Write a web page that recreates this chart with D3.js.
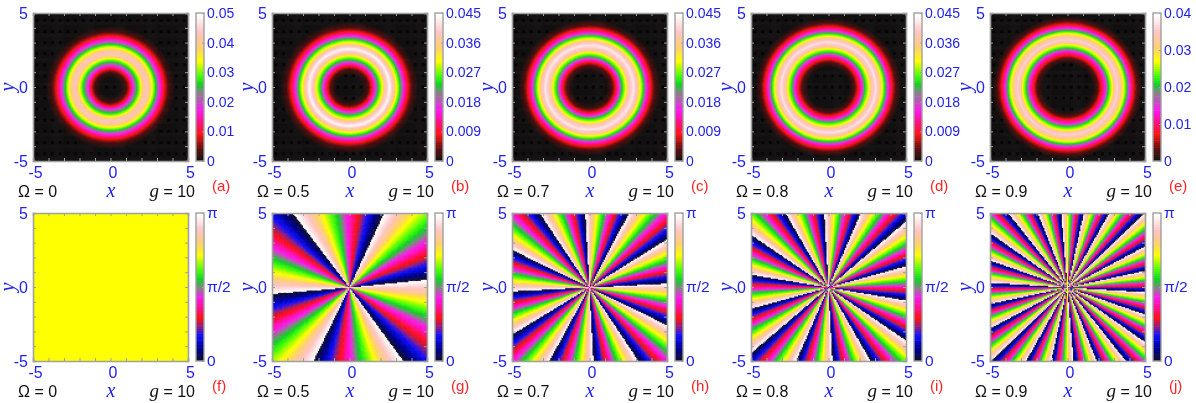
<!DOCTYPE html>
<html><head><meta charset="utf-8">
<script src="https://d3js.org/d3.v7.min.js"></script>
<style>
html,body{margin:0;padding:0;background:#fff;width:1196px;height:403px;overflow:hidden}
#w{position:relative;width:1196px;height:403px}
canvas{position:absolute;filter:blur(0.45px)}
svg{position:absolute;left:0;top:0}
text{font-family:"Liberation Sans",Arial,sans-serif}
.it{font-family:"Liberation Serif",serif;font-style:italic}
</style></head><body><div id="w"></div>
<script>
// ---------- data ----------
const omegas = ["0","0.5","0.7","0.8","0.9"];
const gLabel = "g = 10";
const topLetters = ["(a)","(b)","(c)","(d)","(e)"];
const botLetters = ["(f)","(g)","(h)","(i)","(j)"];
const densityMax = [0.05,0.045,0.045,0.045,0.04];
const densityTicks = [
  [0,0.01,0.02,0.03,0.04,0.05],
  [0,0.009,0.018,0.027,0.036,0.045],
  [0,0.009,0.018,0.027,0.036,0.045],
  [0,0.009,0.018,0.027,0.036,0.045],
  [0,0.01,0.02,0.03,0.04]];
// radial density profiles: radius, density
const radiiA = [0,0.65,1.0,1.24,1.42,1.73,1.98,2.1,2.3,2.5,2.7,2.92,3.2,3.48,3.78,4.15,5];
const densA  = [0,0.0004,0.003,0.009,0.017,0.026,0.034,0.040,0.0435,0.040,0.034,0.026,0.017,0.009,0.003,0.0004,0];
const radiiB = [0,0.85,1.2,1.42,1.62,1.9,2.15,2.28,2.6,2.85,3.03,3.25,3.52,3.78,4.05,4.45,5];
const densB  = [0,0.0003,0.003,0.008,0.015,0.024,0.031,0.037,0.0438,0.037,0.031,0.024,0.015,0.008,0.003,0.0003,0];
const radiiC = [0,1.1,1.45,1.68,1.88,2.12,2.38,2.5,2.85,3.12,3.27,3.48,3.72,3.98,4.22,4.6,5];
const densC  = [0,0.0003,0.003,0.008,0.015,0.024,0.031,0.037,0.0425,0.037,0.031,0.024,0.015,0.008,0.003,0.0003,0];
const radiiD = [0,1.35,1.68,1.9,2.15,2.38,2.64,2.75,3.05,3.3,3.45,3.65,3.88,4.12,4.36,4.7,5];
const densD  = [0,0.0003,0.003,0.008,0.015,0.024,0.031,0.037,0.042,0.037,0.031,0.024,0.015,0.008,0.003,0.0003,0];
const radiiE = [0,1.6,1.95,2.15,2.43,2.65,2.92,3.0,3.2,3.42,3.62,3.82,4.04,4.27,4.5,4.82,5];
const densE  = [0,0.0003,0.0028,0.007,0.0135,0.021,0.028,0.0325,0.0362,0.0325,0.028,0.021,0.0135,0.007,0.0028,0.0003,0];
const radii = [radiiA,radiiB,radiiC,radiiD,radiiE];
const dens  = [densA,densB,densC,densD,densE];
// phase branch cuts (degrees, ccw from +x) where white meets navy
const cutsF = [];
const cutsG = [6,66,126,185,245,305];
const cutsH = [3,33,63,93,122.5,153,183,212.5,242.5,273,302.5,333];
const cutsI = [16,41.7,67.4,93,118.8,144.5,170.2,196,221.6,247.3,273,298.7,324.4,350];
const cutsJ = [12.7,29,45.4,61.8,78.1,94.5,110.8,127.2,143.6,159.9,176.3,192.6,209,225.4,241.8,258.1,274.5,290.8,307.2,323.6,339.9,356.4];
const cuts = [cutsF,cutsG,cutsH,cutsI,cutsJ];
const axisTicks = [-5,-4,-3,-2,-1,0,1,2,3,4,5];
const axisLabelled = [-5,0,5];
const phaseTicks = [0,Math.PI/2,Math.PI];
const phaseTickLabels = ["0","π/2","π"];
// palette stops (fraction of range, colour)
const densStopsAt = [0,0.08,0.18,0.27,0.34,0.42,0.47,0.52,0.58,0.68,0.77,0.88,0.95,1];
const densStopsCol = ["#141212","#601010","#ff1414","#ff1090","#ff18f0","#b060b0","#808880","#10d028","#48ff08","#ffff00","#ffd070","#ffc4c4","#ffe8e8","#ffffff"];
const phStopsAt = [0,0.08,0.17,0.23,0.29,0.36,0.43,0.5,0.55,0.62,0.72,0.8,0.89,0.95,1];
const phStopsCol = ["#101030","#000090","#1010ff","#902080","#ff1010","#ff1090","#ff18f0","#808880","#10d028","#48ff08","#ffff00","#ffd070","#ffc4c4","#ffe4e4","#ffffff"];
// panel frames
const x0s = [33,272,512,751,990];
const pw = 155, rowTop = [13,213], ph = 148;
const levels = 64;
const blue = "#2222ee", gray = "#a0a0a0";

const wrap = d3.select("#w");
const svg = wrap.append("svg").attr("width",1196).attr("height",403);
const densPal = d3.scaleLinear().domain(densStopsAt).range(densStopsCol);
const phPal = d3.scaleLinear().domain(phStopsAt).range(phStopsCol);
const quant = f => Math.min(levels-1,Math.floor(f*levels))/(levels-1);

function newCanvas(l,t,w,h){
  const c = wrap.insert("canvas","svg").attr("width",w).attr("height",h)
    .style("left",l+"px").style("top",t+"px").node();
  return c.getContext("2d");
}
function frame(i,row){
  const x = d3.scaleLinear().domain([-5,5]).range([x0s[i],x0s[i]+pw]);
  const y = d3.scaleLinear().domain([-5,5]).range([rowTop[row]+ph,rowTop[row]]);
  return {x,y};
}
function axes(i,row,{x,y}){
  const g = svg.append("g");
  const fmt = d => axisLabelled.includes(d) ? String(d) : "";
  const mk = (sel,ax,tr) => { const a = sel.append("g").attr("transform",tr).call(ax);
    a.select(".domain").attr("stroke",gray).attr("stroke-width",1.6);
    a.selectAll(".tick line").attr("stroke",gray).attr("stroke-width",1);
    a.selectAll("text").attr("fill",blue).attr("font-size",16).attr("font-family","Liberation Sans");
    return a; };
  const yb = rowTop[row]+ph, yt = rowTop[row], xl = x0s[i], xr = x0s[i]+pw;
  mk(g,d3.axisBottom(x).tickValues(axisTicks).tickFormat(fmt).tickSize(-3).tickPadding(6),`translate(0,${yb})`)
    .selectAll("text").attr("dx",2);
  mk(g,d3.axisLeft(y).tickValues(axisTicks).tickFormat(fmt).tickSize(-3).tickPadding(5),`translate(${xl},0)`);
  mk(g,d3.axisTop(x).tickValues(axisTicks).tickFormat("").tickSize(-3),`translate(0,${yt})`);
  mk(g,d3.axisRight(y).tickValues(axisTicks).tickFormat("").tickSize(-3),`translate(${xr},0)`);
  // annotations
  g.append("text").attr("class","it").attr("x",(xl+xr)/2+0.5).attr("y",yb+36).attr("text-anchor","middle").attr("fill",blue).attr("font-size",20).text("x");
  g.append("text").attr("class","it").attr("transform",`translate(${xl-19},${(yt+yb)/2}) rotate(-90)`).attr("text-anchor","middle").attr("fill",blue).attr("font-size",20).text("y");
  g.append("text").attr("x",xl-15).attr("y",yb+36).attr("fill","#111").attr("font-size",16).text("Ω = "+omegas[i]);
  const gt = g.append("text").attr("x",xr+7).attr("y",yb+36).attr("text-anchor","end").attr("fill","#111").attr("font-size",16);
  gt.append("tspan").attr("class","it").attr("font-size",19).text("g");
  gt.append("tspan").text(gLabel.slice(1));
  g.append("text").attr("x",xr+24).attr("y",yb+30).attr("fill","#f22").attr("font-size",15).text(row? botLetters[i]:topLetters[i]);
}
function colorbar(i,row,pal,ticks,labels,vmax){
  const xl = x0s[i]+pw+8, w = 8, yt = rowTop[row], yb = yt+ph;
  const s = d3.scaleLinear().domain([0,vmax]).range([yb,yt]);
  const ctx = newCanvas(xl,yt,w,ph);
  for(let k=0;k<levels;k++){
    const f=(k+0.5)/levels; ctx.fillStyle=pal(quant(f));
    const y1=s(k/levels*vmax)-yt, y2=s((k+1)/levels*vmax)-yt;
    ctx.fillRect(0,y2,w,y1-y2+0.6);
  }
  svg.append("rect").attr("x",xl).attr("y",yt).attr("width",w).attr("height",ph).attr("fill","none").attr("stroke",gray).attr("stroke-width",1.4);
  const a = svg.append("g").attr("transform",`translate(${xl+w},0)`)
    .call(d3.axisRight(s).tickValues(ticks).tickFormat((d,j)=>labels[j]).tickSize(-2).tickPadding(3));
  a.select(".domain").remove();
  a.selectAll("line").attr("stroke",gray);
  a.selectAll("text").attr("fill",blue).attr("font-size",row?15.5:14).attr("font-family","Liberation Sans");
}
const dotX = d3.range(-4.75,5,0.5), dotY = d3.range(-4.5,5,0.75);
for(let i=0;i<5;i++){
  // density row
  const fr = frame(i,0), ctx = newCanvas(x0s[i],rowTop[0],pw,ph);
  const prof = d3.scaleLinear().domain(radii[i]).range(dens[i]).clamp(true);
  const st = 0.0625;
  const ox = fr.x(-5), oy = fr.y(5);
  for(let a=-5;a<5;a+=st) for(let b=-5;b<5;b+=st){
    const v = prof(Math.hypot(a+st/2,b+st/2));
    ctx.fillStyle = densPal(quant(v/densityMax[i]));
    ctx.fillRect(fr.x(a)-ox,fr.y(b+st)-oy,fr.x(a+st)-fr.x(a)+0.6,fr.y(b)-fr.y(b+st)+0.6);
  }
  ctx.fillStyle="rgba(0,0,0,0.6)";
  dotX.forEach(a=>dotY.forEach(b=>{ if(prof(Math.hypot(a,b))<0.0004) ctx.fillRect(fr.x(a)-ox-1.5,fr.y(b)-oy-1.5,3,3); }));
  axes(i,0,fr);
  colorbar(i,0,densPal,densityTicks[i],densityTicks[i].map(String),densityMax[i]);

  // phase row
  const fp = frame(i,1), c2 = newCanvas(x0s[i],rowTop[1],pw,ph);
  const ox2 = fp.x(-5), oy2 = fp.y(5), cs = cuts[i], st2 = 0.08;
  const phase = (a,b)=>{
    const th = (Math.atan2(b,a)*180/Math.PI+360)%360;
    let j = d3.bisectRight(cs,th)-1;
    const lo = j<0 ? cs[cs.length-1]-360 : cs[j];
    const hi = j>=cs.length-1 ? cs[0]+360 : cs[j+1];
    return (th-lo)/(hi-lo)*Math.PI;
  };
  for(let a=-5;a<4.999;a+=st2) for(let b=-5;b<4.999;b+=st2){
    c2.fillStyle = phPal(cs.length ? quant(phase(a+st2/2,b+st2/2)/Math.PI) : 0.72);
    c2.fillRect(fp.x(a)-ox2,fp.y(b+st2)-oy2,fp.x(a+st2)-fp.x(a)+0.6,fp.y(b)-fp.y(b+st2)+0.6);
  }
  axes(i,1,fp);
  colorbar(i,1,phPal,phaseTicks,phaseTickLabels,Math.PI);
}
</script></body></html>
